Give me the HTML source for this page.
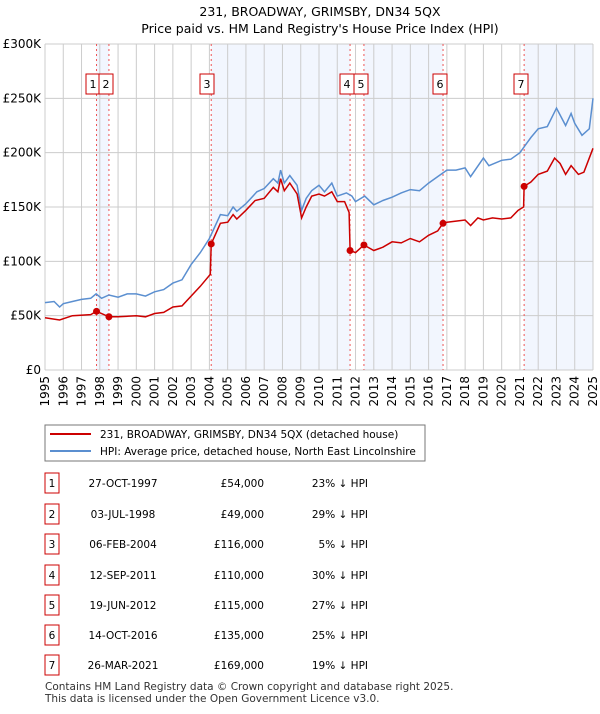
<!DOCTYPE html>
<html><head><meta charset="utf-8"><style>
body{margin:0;background:#fff;width:600px;height:710px;overflow:hidden;font-family:"DejaVu Sans","Liberation Sans",sans-serif;}
svg text{font-family:"DejaVu Sans","Liberation Sans",sans-serif;}
</style></head><body>
<svg id="c" width="600" height="710" xmlns="http://www.w3.org/2000/svg">
<text x="320" y="16" text-anchor="middle" font-size="12.5">231, BROADWAY, GRIMSBY, DN34 5QX</text>
<text x="320" y="33" text-anchor="middle" font-size="12.5">Price paid vs. HM Land Registry's House Price Index (HPI)</text>
<g id="bands"></g><g id="grid"></g><g id="vlines"></g><g id="series"></g><g id="marks"></g><g id="axes"></g>
<rect x="45" y="425" width="380" height="36" fill="#fff" stroke="#777"/>
<line x1="50" y1="434" x2="91" y2="434" stroke="#cc0000" stroke-width="2"/>
<text x="100" y="438" font-size="10.5">231, BROADWAY, GRIMSBY, DN34 5QX (detached house)</text>
<line x1="50" y1="451" x2="91" y2="451" stroke="#5b8fd0" stroke-width="2"/>
<text x="100" y="455" font-size="10.5">HPI: Average price, detached house, North East Lincolnshire</text>
<g id="table"></g>
<text x="45" y="690" font-size="10.5" fill="#333">Contains HM Land Registry data © Crown copyright and database right 2025.</text>
<text x="45" y="702" font-size="10.5" fill="#333">This data is licensed under the Open Government Licence v3.0.</text>
</svg>
<script>
const hpiT=[1995,1995.5,1995.8,1996,1996.5,1997,1997.5,1997.8,1998.1,1998.5,1999,1999.5,2000,2000.5,2001,2001.5,2002,2002.5,2003,2003.5,2004,2004.6,2005,2005.3,2005.5,2006,2006.6,2007,2007.5,2007.75,2007.9,2008.1,2008.4,2008.8,2009.05,2009.3,2009.6,2010,2010.3,2010.7,2011,2011.5,2011.8,2012,2012.5,2013,2013.5,2014,2014.5,2015,2015.5,2016,2016.5,2017,2017.5,2018,2018.3,2019,2019.3,2020,2020.5,2021,2021.3,2021.6,2022,2022.5,2023,2023.5,2023.8,2024,2024.4,2024.8,2025];
const hpiV=[62,63,58,61,63,65,66,70,66,69,67,70,70,68,72,74,80,83,97,108,121,143,142,150,146,153,164,167,176,172,184,172,179,170,147,158,165,170,164,172,160,163,160,155,160,152,156,159,163,166,165,172,178,184,184,186,178,195,188,193,194,200,207,214,222,224,241,225,236,227,216,222,250];
const priceT=[1995,1995.8,1996.5,1997.5,1997.82,1998.5,1999,2000,2000.5,2001,2001.5,2002,2002.5,2003,2003.5,2004.05,2004.1,2004.6,2005,2005.3,2005.5,2006,2006.5,2007,2007.5,2007.75,2007.9,2008.1,2008.4,2008.8,2009.05,2009.3,2009.6,2010,2010.3,2010.7,2011,2011.4,2011.65,2011.7,2012,2012.46,2013,2013.5,2014,2014.5,2015,2015.5,2016,2016.5,2016.79,2017,2017.5,2018,2018.3,2018.7,2019,2019.5,2020,2020.5,2020.9,2021.2,2021.23,2021.6,2022,2022.5,2022.9,2023.2,2023.5,2023.8,2024.2,2024.5,2025];
const priceV=[48,46,50,51,54,49,49,50,49,52,53,58,59,68,77,88,116,135,136,143,139,147,156,158,168,164,176,165,172,162,140,150,160,162,160,164,155,155,145,110,108,115,110,113,118,117,121,118,124,128,135,136,137,138,133,140,138,140,139,140,147,150,169,173,180,183,195,190,180,188,180,182,204];
const saleT=[1997.82,1998.5,2004.1,2011.7,2012.46,2016.79,2021.23];
const saleV=[54,49,116,110,115,135,169];
const saleDates=["27-OCT-1997","03-JUL-1998","06-FEB-2004","12-SEP-2011","19-JUN-2012","14-OCT-2016","26-MAR-2021"];
const salePrices=["£54,000","£49,000","£116,000","£110,000","£115,000","£135,000","£169,000"];
const saleHpi=["23% ↓ HPI","29% ↓ HPI","5% ↓ HPI","30% ↓ HPI","27% ↓ HPI","25% ↓ HPI","19% ↓ HPI"];
const yTicks=[0,50,100,150,200,250,300];
const yLabels=["£0","£50K","£100K","£150K","£200K","£250K","£300K"];
const xTicks=[1995,1996,1997,1998,1999,2000,2001,2002,2003,2004,2005,2006,2007,2008,2009,2010,2011,2012,2013,2014,2015,2016,2017,2018,2019,2020,2021,2022,2023,2024,2025];
const NS="http://www.w3.org/2000/svg";
const X0=45,X1=593,Y0=370,Y1=44;
const xs=t=>X0+(t-1995)/30*(X1-X0);
const ys=v=>Y0-v/300*(Y0-Y1);
function mk(tag,attrs,parent){const e=document.createElementNS(NS,tag);for(const k in attrs)e.setAttribute(k,attrs[k]);document.getElementById(parent).appendChild(e);return e;}
// bands
const bandEdges=[...saleT,2025];
for(let i=0;i<bandEdges.length-1;i++){if(i%2===0){const r=mk('rect',{x:xs(bandEdges[i]),y:Y1,width:xs(bandEdges[i+1])-xs(bandEdges[i]),height:Y0-Y1,fill:'#eef3fd',opacity:0.75},'bands');

}}
xTicks.forEach(t=>{const l=mk('line',{x1:xs(t),x2:xs(t),y1:Y1,y2:Y0,stroke:'#ccc'},'grid');


const tx=mk('text',{x:0,y:0,'font-size':12,'text-anchor':'end',transform:`translate(${xs(t)+4},${Y0+6}) rotate(-90)`},'axes');tx.textContent=t;

});
yTicks.forEach((v,i)=>{const l=mk('line',{x1:X0,x2:X1,y1:ys(v),y2:ys(v),stroke:'#ccc'},'grid');


const tx=mk('text',{x:X0-4,y:ys(v)+4,'font-size':12,'text-anchor':'end'},'axes');tx.textContent=yLabels[i];

});
saleT.forEach((t,i)=>{const l=mk('line',{x1:xs(t),x2:xs(t),y1:Y1,y2:Y0,stroke:'#e55','stroke-dasharray':'2,3'},'vlines');


let bx=xs(t)-14;if(i===0)bx=xs(t)-14;if(i===1)bx=xs(t)-14+0;if(i===3)bx=xs(t)-10;
const boxX=[86,99,200,340,354,433,514][i];
const r=mk('rect',{x:boxX,y:74,width:14,height:20,fill:'#fff',stroke:'#cc0000'},'vlines');


const tx=mk('text',{x:boxX+7,y:88,'font-size':11,'text-anchor':'middle'},'vlines');tx.textContent=i+1;

});
const path=(T,V)=>T.map((t,i)=>(i?'L':'M')+xs(t).toFixed(1)+','+ys(V[i]).toFixed(1)).join('');
const h=mk('path',{d:path(hpiT,hpiV),fill:'none',stroke:'#5b8fd0','stroke-width':1.5},'series');


const p=mk('path',{d:path(priceT,priceV),fill:'none',stroke:'#cc0000','stroke-width':1.5},'series');


saleT.forEach((t,i)=>{const c=mk('circle',{cx:xs(t),cy:ys(saleV[i]),r:3.5,fill:'#cc0000'},'marks');

});
const rowY=[482,513,543,574,604,634,664];
saleDates.forEach((d,i)=>{const y=rowY[i];
const r=mk('rect',{x:45,y:y-9,width:14,height:20,fill:'#fff',stroke:'#cc0000'},'table');


const n=mk('text',{x:52,y:y+5,'font-size':10.5,'text-anchor':'middle'},'table');n.textContent=i+1;


const a=mk('text',{x:123,y:y+5,'font-size':10.5,'text-anchor':'middle'},'table');a.textContent=d;


const b=mk('text',{x:264,y:y+5,'font-size':10.5,'text-anchor':'end'},'table');b.textContent=salePrices[i];


const c=mk('text',{x:368,y:y+5,'font-size':10.5,'text-anchor':'end'},'table');c.textContent=saleHpi[i];

});
</script>
</body></html>
